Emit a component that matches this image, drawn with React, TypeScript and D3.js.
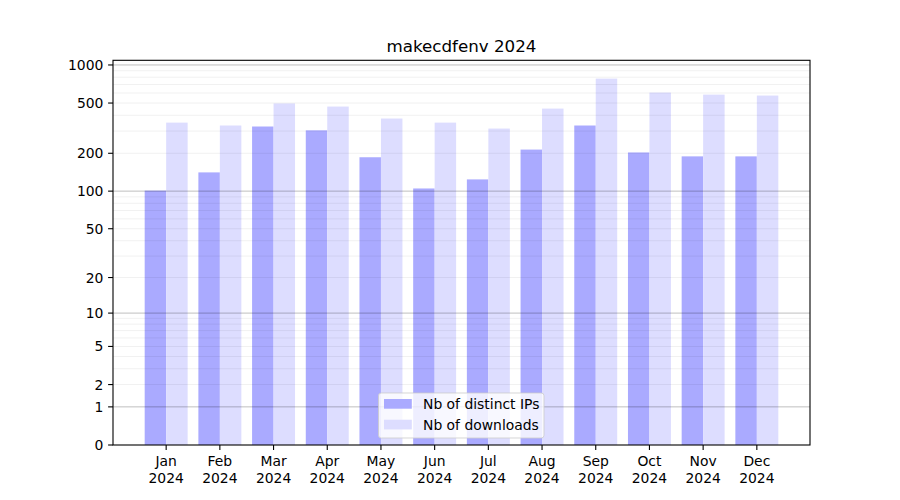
import * as d3 from 'd3';

const TITLE = 'makecdfenv 2024';
const MONTHS = ['Jan', 'Feb', 'Mar', 'Apr', 'May', 'Jun', 'Jul', 'Aug', 'Sep', 'Oct', 'Nov', 'Dec'];
const YEAR = '2024';
const DISTINCT_IPS = [101, 141, 326, 304, 186, 105, 124, 214, 332, 203, 189, 189];
const DOWNLOADS = [350, 332, 496, 469, 377, 350, 314, 452, 780, 605, 583, 573];
const Y_TICKS = [0, 1, 2, 5, 10, 20, 50, 100, 200, 500, 1000];
const MAJOR_GRID = [1, 10, 100, 1000];
const MINOR_GRID = [2, 3, 4, 5, 6, 7, 8, 9, 20, 30, 40, 50, 60, 70, 80, 90, 200, 300, 400, 500, 600, 700, 800, 900];
const LEGEND = ['Nb of distinct IPs', 'Nb of downloads'];

const WIDTH = 900;
const HEIGHT = 500;
const PLOT = { left: 113, right: 810, top: 60.3, bottom: 445 };
const BAR_W = 0.4;
const COLOR_IPS = '#aaaaff';
const COLOR_DL = '#ddddff';
const FONT = 'DejaVu Sans, sans-serif';

export default function App() {
  // matplotlib-like 5% margin in x (index units)
  const xMin = -BAR_W;
  const xMax = MONTHS.length - 1 + BAR_W;
  const xPad = (xMax - xMin) * 0.05;
  const x = d3.scaleLinear().domain([xMin - xPad, xMax + xPad]).range([PLOT.left, PLOT.right]);

  // log10(1 + v) axis, 5% top margin in transformed space
  const maxVal = d3.max([...DISTINCT_IPS, ...DOWNLOADS]) ?? 1;
  const yTop = Math.pow(10, Math.log10(maxVal + 1) * 1.05) - 1;
  const y = d3.scaleSymlog().constant(1).domain([0, yTop]).range([PLOT.bottom, PLOT.top]);

  const barW = x(BAR_W) - x(0);

  return (
    <svg
      width={WIDTH}
      height={HEIGHT}
      viewBox={`0 0 ${WIDTH} ${HEIGHT}`}
      style={{ position: 'absolute', left: 0, top: 0, background: '#fff' }}
      fontFamily={FONT}
    >
      <rect x={0} y={0} width={WIDTH} height={HEIGHT} fill="#fff" />

      {/* bars */}
      {MONTHS.map((m, i) => (
        <g key={m}>
          <rect
            x={x(i) - barW}
            y={y(DISTINCT_IPS[i])}
            width={barW}
            height={y(0) - y(DISTINCT_IPS[i])}
            fill={COLOR_IPS}
          />
          <rect
            x={x(i)}
            y={y(DOWNLOADS[i])}
            width={barW}
            height={y(0) - y(DOWNLOADS[i])}
            fill={COLOR_DL}
          />
        </g>
      ))}

      {/* grid on top of bars */}
      {MINOR_GRID.map((v) => (
        <line key={'mi' + v} x1={PLOT.left} x2={PLOT.right} y1={y(v)} y2={y(v)} stroke="#000" strokeOpacity={0.08} strokeWidth={0.8} />
      ))}
      {MAJOR_GRID.map((v) => (
        <line key={'ma' + v} x1={PLOT.left} x2={PLOT.right} y1={y(v)} y2={y(v)} stroke="#000" strokeOpacity={0.25} strokeWidth={1} />
      ))}

      {/* spines */}
      <rect
        x={PLOT.left}
        y={PLOT.top}
        width={PLOT.right - PLOT.left}
        height={PLOT.bottom - PLOT.top}
        fill="none"
        stroke="#000"
        strokeWidth={1.1}
      />

      {/* y ticks */}
      {Y_TICKS.map((v) => (
        <g key={'yt' + v}>
          <line x1={PLOT.left - 4.9} x2={PLOT.left} y1={y(v)} y2={y(v)} stroke="#000" strokeWidth={1.1} />
          <text x={PLOT.left - 9.6} y={y(v)} dy="0.36em" textAnchor="end" fontSize={13.9} fill="#000">
            {v}
          </text>
        </g>
      ))}

      {/* x ticks */}
      {MONTHS.map((m, i) => (
        <g key={'xt' + m}>
          <line x1={x(i)} x2={x(i)} y1={PLOT.bottom} y2={PLOT.bottom + 4.9} stroke="#000" strokeWidth={1.1} />
          <text x={x(i)} y={466} textAnchor="middle" fontSize={13.9} fill="#000">
            {m}
          </text>
          <text x={x(i)} y={482.5} textAnchor="middle" fontSize={13.9} fill="#000">
            {YEAR}
          </text>
        </g>
      ))}

      {/* title */}
      <text x={(PLOT.left + PLOT.right) / 2} y={52} textAnchor="middle" fontSize={16.7} fill="#000">
        {TITLE}
      </text>

      {/* legend */}
      <g transform="translate(378.5, 393)">
        <rect x={0} y={0} width={165.5} height={45} rx={2.8} fill="#fff" fillOpacity={0.8} stroke="#cccccc" strokeOpacity={0.8} strokeWidth={1} />
        {LEGEND.map((label, i) => (
          <g key={label} transform={`translate(0, ${11 + i * 20.7})`}>
            <rect x={5.5} y={-5} width={27.8} height={9.7} fill={i === 0 ? COLOR_IPS : COLOR_DL} />
            <text x={44.5} y={0} dy="0.36em" fontSize={13.9} fill="#000">
              {label}
            </text>
          </g>
        ))}
      </g>
    </svg>
  );
}
